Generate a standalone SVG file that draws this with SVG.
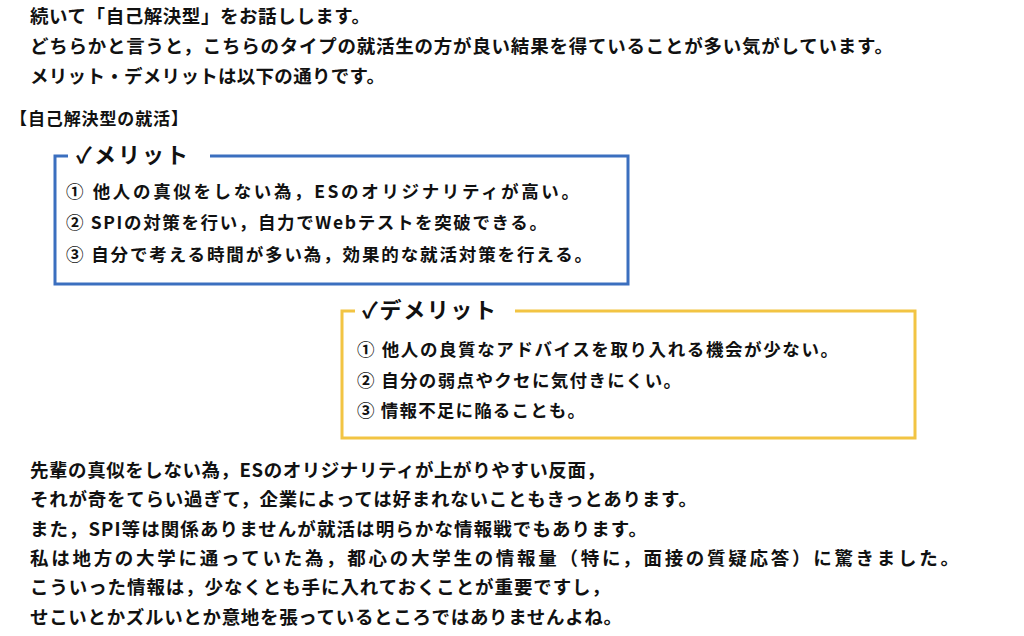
<svg xmlns="http://www.w3.org/2000/svg" width="1024" height="636" viewBox="0 0 1024 636">
<style>
text{font-family:"Noto Sans CJK JP","Noto Sans",sans-serif;font-weight:bold;fill:#111}
.t{font-size:18.5px}
.i{font-size:17.5px}
.h{font-size:22px}
</style>
<rect width="1024" height="636" fill="#fff"/>
<g id="intro">
<text class="t" x="30" y="23" textLength="340" lengthAdjust="spacing">続いて「自己解決型」をお話しします。</text>
<text class="t" x="30" y="53" textLength="863" lengthAdjust="spacing">どちらかと言うと，こちらのタイプの就活生の方が良い結果を得ていることが多い気がしています。</text>
<text class="t" x="30" y="83" textLength="355" lengthAdjust="spacing">メリット・デメリットは以下の通りです。</text>
<text class="t" x="10" y="125" style="font-size:17px" textLength="178" lengthAdjust="spacing">【自己解決型の就活】</text>
</g>
<g id="merit">
<rect x="55" y="156" width="573" height="128" fill="none" stroke="#3b6fbf" stroke-width="3"/>
<rect x="68" y="145" width="142" height="22" fill="#fff"/>
<text class="h" x="76" y="163" textLength="112" lengthAdjust="spacing">✓メリット</text>
<text class="i" x="66" y="198" textLength="513" lengthAdjust="spacing">① 他人の真似をしない為，ESのオリジナリティが高い。</text>
<text class="i" x="66" y="229" textLength="481" lengthAdjust="spacing">② SPIの対策を行い，自力でWebテストを突破できる。</text>
<text class="i" x="66" y="261" textLength="526" lengthAdjust="spacing">③ 自分で考える時間が多い為，効果的な就活対策を行える。</text>
</g>
<g id="demerit">
<rect x="342" y="311" width="573" height="127" fill="none" stroke="#f2c443" stroke-width="3"/>
<rect x="355" y="300" width="160" height="22" fill="#fff"/>
<text class="h" x="362" y="318" textLength="134" lengthAdjust="spacing">✓デメリット</text>
<text class="i" x="357" y="356" textLength="481" lengthAdjust="spacing">① 他人の良質なアドバイスを取り入れる機会が少ない。</text>
<text class="i" x="357" y="387" textLength="324" lengthAdjust="spacing">② 自分の弱点やクセに気付きにくい。</text>
<text class="i" x="357" y="417" textLength="228" lengthAdjust="spacing">③ 情報不足に陥ることも。</text>
</g>
<g id="body">
<text class="t" x="30" y="477" textLength="575" lengthAdjust="spacing">先輩の真似をしない為，ESのオリジナリティが上がりやすい反面，</text>
<text class="t" x="30" y="506" textLength="667" lengthAdjust="spacing">それが奇をてらい過ぎて，企業によっては好まれないこともきっとあります。</text>
<text class="t" x="30" y="536" textLength="617" lengthAdjust="spacing">また，SPI等は関係ありませんが就活は明らかな情報戦でもあります。</text>
<text class="t" x="30" y="565" textLength="929" lengthAdjust="spacing">私は地方の大学に通っていた為，都心の大学生の情報量（特に，面接の質疑応答）に驚きました。</text>
<text class="t" x="30" y="594" textLength="580" lengthAdjust="spacing">こういった情報は，少なくとも手に入れておくことが重要ですし，</text>
<text class="t" x="30" y="624" textLength="592" lengthAdjust="spacing">せこいとかズルいとか意地を張っているところではありませんよね。</text>
</g>
<g id="connectors"/>
</svg>
